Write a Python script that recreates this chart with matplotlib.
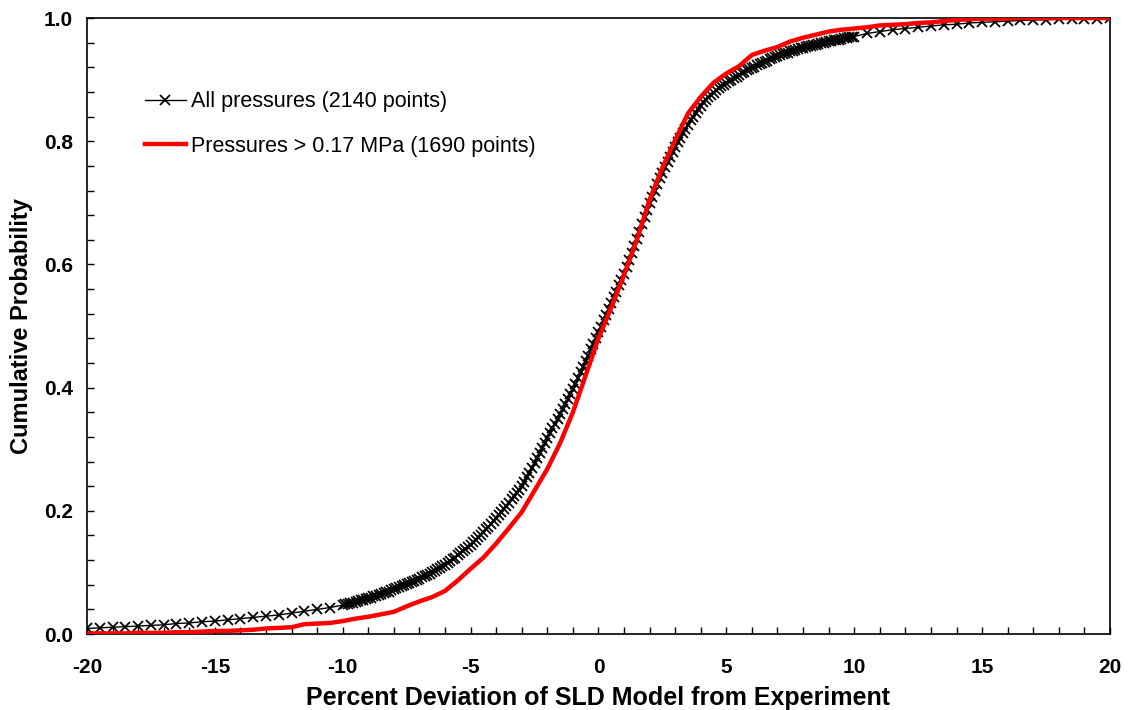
import numpy as np
import matplotlib
matplotlib.use("Agg")
import matplotlib.pyplot as plt
from matplotlib.ticker import MultipleLocator


# =========================
# DATA
# =========================

# all pressures: coarse tails, dense centre
all_x_left = np.arange(-20.0, -10.0, 0.5)
all_y_left = [
    0.009, 0.010, 0.011, 0.012, 0.013, 0.014, 0.015, 0.017, 0.018, 0.020,
    0.021, 0.023, 0.025, 0.027, 0.029, 0.031, 0.034, 0.037, 0.040, 0.043,
]

all_x_mid = np.round(np.arange(-10.0, 10.05, 0.1), 1)
all_y_mid = [
    0.047, 0.048, 0.049, 0.050, 0.051, 0.052, 0.054, 0.055, 0.056, 0.057,
    0.058, 0.059, 0.061, 0.062, 0.064, 0.065, 0.066, 0.068, 0.069, 0.071,
    0.073, 0.075, 0.076, 0.078, 0.080, 0.081, 0.083, 0.085, 0.086, 0.088,
    0.090, 0.092, 0.094, 0.096, 0.098, 0.100, 0.103, 0.105, 0.107, 0.110,
    0.112, 0.115, 0.118, 0.121, 0.124, 0.128, 0.131, 0.135, 0.138, 0.141,
    0.145, 0.149, 0.153, 0.157, 0.161, 0.165, 0.170, 0.174, 0.179, 0.183,
    0.188, 0.193, 0.198, 0.203, 0.208, 0.213, 0.219, 0.224, 0.229, 0.234,
    0.240, 0.247, 0.255, 0.262, 0.270, 0.278, 0.286, 0.294, 0.302, 0.310,
    0.318, 0.326, 0.334, 0.341, 0.349, 0.357, 0.365, 0.373, 0.381, 0.389,
    0.397, 0.406, 0.415, 0.425, 0.434, 0.443, 0.452, 0.462, 0.471, 0.480,
    0.490, 0.499, 0.509, 0.518, 0.528, 0.537, 0.547, 0.556, 0.566, 0.575,
    0.585, 0.596, 0.607, 0.618, 0.630, 0.641, 0.653, 0.665, 0.677, 0.688,
    0.700, 0.710, 0.720, 0.730, 0.740, 0.749, 0.758, 0.767, 0.775, 0.783,
    0.791, 0.799, 0.806, 0.813, 0.820, 0.827, 0.834, 0.840, 0.846, 0.852,
    0.858, 0.863, 0.867, 0.871, 0.875, 0.879, 0.883, 0.886, 0.889, 0.892,
    0.895, 0.898, 0.900, 0.903, 0.905, 0.908, 0.910, 0.912, 0.915, 0.917,
    0.919, 0.921, 0.923, 0.925, 0.927, 0.929, 0.931, 0.933, 0.935, 0.936,
    0.938, 0.940, 0.941, 0.943, 0.944, 0.946, 0.947, 0.948, 0.950, 0.951,
    0.952, 0.953, 0.954, 0.955, 0.956, 0.957, 0.958, 0.959, 0.960, 0.961,
    0.962, 0.963, 0.964, 0.965, 0.965, 0.966, 0.967, 0.968, 0.969, 0.969,
    0.970,
]

all_x_right = np.arange(10.5, 20.01, 0.5)
all_y_right = [
    0.975, 0.978, 0.981, 0.983, 0.985, 0.987, 0.989, 0.990, 0.992, 0.993,
    0.994, 0.995, 0.996, 0.997, 0.997, 0.998, 0.998, 0.999, 0.999, 1.000,
]

# pressures > 0.17 MPa
hp_x = np.arange(-20.0, 20.01, 0.5)
hp_y = [
    0.001, 0.001, 0.001, 0.001, 0.002, 0.002, 0.002, 0.003, 0.003, 0.004,
    0.005, 0.005, 0.006, 0.007, 0.009, 0.010, 0.011, 0.016, 0.017, 0.018,
    0.021, 0.025, 0.028, 0.032, 0.036, 0.045, 0.053, 0.060, 0.070, 0.087,
    0.106, 0.124, 0.147, 0.172, 0.198, 0.233, 0.268, 0.310, 0.360, 0.420,
    0.480, 0.530, 0.583, 0.640, 0.705, 0.757, 0.802, 0.845, 0.872, 0.895,
    0.910, 0.922, 0.940, 0.947, 0.953, 0.962, 0.968, 0.973, 0.978, 0.981,
    0.983, 0.985, 0.988, 0.989, 0.990, 0.992, 0.993, 0.995, 0.997, 0.998,
    0.999, 0.999, 0.999, 1.000, 1.000, 1.000, 1.000, 1.000, 1.000, 1.000,
    1.000,
]

all_x = np.concatenate([all_x_left, all_x_mid, all_x_right])
all_y = np.concatenate([all_y_left, all_y_mid, all_y_right])


# =========================
# PLOT
# =========================

plt.rcParams["font.family"] = ["Liberation Sans", "DejaVu Sans"]
plt.rcParams["axes.unicode_minus"] = False

fig = plt.figure(figsize=(11.31, 7.10), dpi=100)
ax = fig.add_axes([0.0769, 0.107, 0.9045, 0.8676])

ax.plot(
    all_x, all_y,
    color="black",
    linewidth=1.0,
    marker="x",
    markersize=7,
    markeredgewidth=1.3,
    label="All pressures (2140 points)",
    zorder=2,
)

ax.plot(
    hp_x, hp_y,
    color="#ff0000",
    linewidth=3.2,
    label="Pressures > 0.17 MPa (1690 points)",
    zorder=3,
)

ax.set_xlim(-20, 20)
ax.set_ylim(0, 1.0)

ax.xaxis.set_major_locator(MultipleLocator(5))
ax.xaxis.set_minor_locator(MultipleLocator(1))
ax.yaxis.set_major_locator(MultipleLocator(0.2))
ax.yaxis.set_minor_locator(MultipleLocator(0.04))
ax.yaxis.set_major_formatter(plt.FormatStrFormatter("%.1f"))

ax.tick_params(
    which="both", direction="in",
    top=False, right=False,
    length=5, width=1,
)
ax.tick_params(axis="x", which="major", pad=17, labelsize=15)
ax.tick_params(axis="y", which="major", pad=10, labelsize=15)

for lbl in ax.get_xticklabels() + ax.get_yticklabels():
    lbl.set_fontweight("bold")

for spine in ax.spines.values():
    spine.set_linewidth(1.2)

ax.set_xlabel(
    "Percent Deviation of SLD Model from Experiment",
    fontsize=18, fontweight="bold", labelpad=7,
)
ax.set_ylabel(
    "Cumulative Probability",
    fontsize=17, fontweight="bold", labelpad=8,
)

ax.legend(
    loc="upper left",
    bbox_to_anchor=(0.048, 0.895),
    borderaxespad=0,
    frameon=False,
    fontsize=15.5,
    handlelength=1.9,
    handletextpad=0.25,
    labelspacing=1.1,
)

fig.savefig("out.png", dpi=100)
